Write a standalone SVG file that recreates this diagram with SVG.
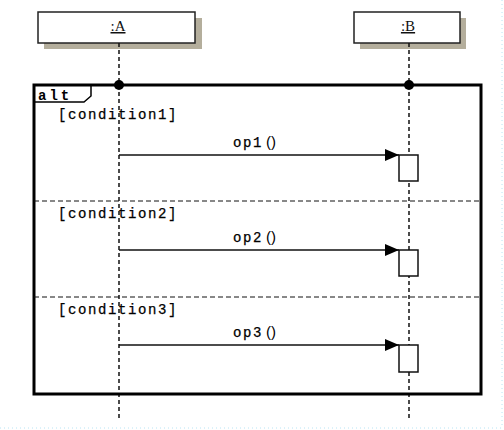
<svg xmlns="http://www.w3.org/2000/svg" width="504" height="430" viewBox="0 0 504 430">
<defs>
<style>
.head{fill:#fff;stroke:#222;stroke-width:1.5}
.shadow{fill:#b4ae9c}
.life{stroke:#111;stroke-width:1.5;stroke-dasharray:4 3;fill:none}
.sep{stroke:#111;stroke-width:1;stroke-dasharray:5 3;fill:none}
.frame{fill:none;stroke:#000;stroke-width:3}
.msg{stroke:#111;stroke-width:1.5;fill:none}
.act{fill:#fff;stroke:#111;stroke-width:1.5}
.t{font-family:"Liberation Mono","DejaVu Sans Mono",monospace;font-size:14px;fill:#000;stroke:#000;stroke-width:0.25;letter-spacing:1.6px}
.name{font-family:"Liberation Serif","DejaVu Serif",serif;font-size:15px;fill:#111;text-decoration:underline}
.alt{font-family:"Liberation Mono","DejaVu Sans Mono",monospace;font-size:14px;font-weight:bold;fill:#000;letter-spacing:3px}
.edge{stroke:#b8e4f4;stroke-width:1;stroke-dasharray:1 3;fill:none}
</style>
<marker id="arr" viewBox="0 0 14 12" refX="14" refY="6" markerWidth="14" markerHeight="12" markerUnits="userSpaceOnUse" orient="auto">
<path d="M0,0 L14,6 L0,12 Z" fill="#000"/>
</marker>
</defs>
<rect width="504" height="430" fill="#fff"/>
<g id="page-edge">
<line class="edge" x1="502" y1="0" x2="502" y2="428"/>
<line class="edge" x1="0" y1="428" x2="502" y2="428"/>
</g>
<g id="lifeline-A">
<rect class="shadow" x="44" y="18" width="158" height="31"/>
<rect class="head" x="38" y="12" width="157" height="31"/>
<text class="name" x="118" y="31" text-anchor="middle">:A</text>
<line class="life" x1="119" y1="43" x2="119" y2="421"/>
</g>
<g id="lifeline-B">
<rect class="shadow" x="360" y="18" width="106" height="31"/>
<rect class="head" x="354" y="12" width="106" height="31"/>
<text class="name" x="408" y="31" text-anchor="middle">:B</text>
<line class="life" x1="409" y1="43" x2="409" y2="421"/>
</g>
<g id="alt-frame">
<rect class="frame" x="34" y="85" width="447" height="309"/>
<path d="M34,102 L84,102 L91,96 L91,85" fill="none" stroke="#000" stroke-width="1.5"/>
<text class="alt" x="38" y="100">alt</text>
<circle cx="119" cy="85" r="5" fill="#000"/>
<circle cx="409" cy="85" r="5" fill="#000"/>
<line class="sep" x1="34" y1="201" x2="481" y2="201"/>
<line class="sep" x1="34" y1="297" x2="481" y2="297"/>
<text class="t" x="58" y="119">[condition1]</text>
<text class="t" x="58" y="218">[condition2]</text>
<text class="t" x="58" y="314">[condition3]</text>
</g>
<g id="activations">
<rect class="act" x="399" y="155" width="19" height="26"/>
<rect class="act" x="399" y="250" width="19" height="26"/>
<rect class="act" x="399" y="345" width="19" height="27"/>
</g>
<g id="connectors">
<line class="msg" x1="119" y1="155" x2="399" y2="155" marker-end="url(#arr)"/>
<line class="msg" x1="119" y1="250" x2="399" y2="250" marker-end="url(#arr)"/>
<line class="msg" x1="119" y1="345" x2="399" y2="345" marker-end="url(#arr)"/>
<text class="t" x="233" y="147">op1<tspan dx="3" font-family="Liberation Sans, sans-serif" font-size="15" stroke-width="0" letter-spacing="0">()</tspan></text>
<text class="t" x="233" y="242">op2<tspan dx="3" font-family="Liberation Sans, sans-serif" font-size="15" stroke-width="0" letter-spacing="0">()</tspan></text>
<text class="t" x="233" y="337">op3<tspan dx="3" font-family="Liberation Sans, sans-serif" font-size="15" stroke-width="0" letter-spacing="0">()</tspan></text>
</g>
</svg>
